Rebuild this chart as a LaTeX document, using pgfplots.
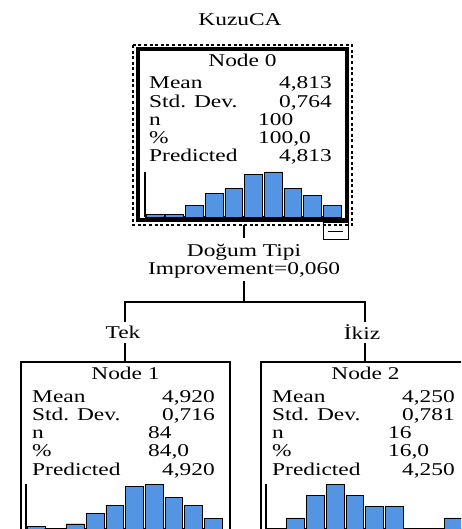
\documentclass[border=0pt]{standalone}
\usepackage{pgfplots}
\pgfplotsset{compat=1.18}
\usepackage{fontspec}
\setmainfont{Liberation Serif}[FakeStretch=1.3]

\definecolor{barblue}{RGB}{83,149,226}
\definecolor{baredge}{RGB}{175,205,242}

\pgfplotsset{histo/.style={
    scale only axis, width=197pt, height=45pt,
    anchor=south west,
    xmin=0.5, xmax=10.5, ymin=0,
    axis x line=bottom, axis y line=left,
    axis line style={-, black, line width=1.3pt},
    xtick=\empty, ytick=\empty,
    ybar, bar width=0.9,
    cycle list={{fill=barblue, draw=baredge, line width=0.7pt}},
}}

% #1 box left, #2 box top (pixels from top), #3 title, #4 mean, #5 sd, #6 n, #7 pct, #8 n column
\newcommand{\nodetext}[8]{%
  \node[anchor=base] at ({#1+104.5},{-(#2+17.5)}) {#3};
  \node[anchor=base west] at ({#1+11},{-(#2+40)}) {Mean};
  \node[anchor=base east] at ({#1+194},{-(#2+40)}) {#4};
  \node[anchor=base west] at ({#1+11},{-(#2+58.3)}) {Std. Dev.};
  \node[anchor=base east] at ({#1+194},{-(#2+58.3)}) {#5};
  \node[anchor=base west] at ({#1+11},{-(#2+76.5)}) {n};
  \node[anchor=base west] at ({#1+#8},{-(#2+76.5)}) {#6};
  \node[anchor=base west] at ({#1+11},{-(#2+94.7)}) {\%};
  \node[anchor=base west] at ({#1+#8},{-(#2+94.7)}) {#7};
  \node[anchor=base west] at ({#1+11},{-(#2+113)}) {Predicted};
  \node[anchor=base east] at ({#1+194},{-(#2+113)}) {#4};
}

\begin{document}
\begin{tikzpicture}[x=1pt, y=1pt,
    every node/.style={inner sep=0pt, font=\fontsize{18}{20}\selectfont, text=black}]
\useasboundingbox (0,0) rectangle (461,-529);
\begin{scope}
\clip (0,0) rectangle (461,-529);

% title
\node at (240,-20) {KuzuCA};

% root node
\draw[black, line width=0.9pt] (323,-222) rectangle (348,-239);
\draw[black, line width=1pt] (328,-231.5) -- (343,-231.5);
\draw[black, line width=3.5pt] (138,-49) rectangle (347,-220);
\draw[black, line width=1.1pt, dash pattern=on 3pt off 2.6pt] (133,-45) rectangle (352,-225);
\nodetext{138}{49}{Node 0}{4,813}{0,764}{100}{100,0}{120}

% connectors
\draw[black, line width=1.5pt] (244,-225) -- (244,-238);
\draw[black, line width=1.5pt] (244,-281) -- (244,-302);
\draw[black, line width=1.5pt] (125,-322) -- (125,-302) -- (365,-302) -- (365,-322);
\draw[black, line width=1.5pt] (125,-343) -- (125,-362);
\draw[black, line width=1.5pt] (365,-343) -- (365,-362);
\node at (244,-252) {Doğum Tipi};
\node at (244,-270) {Improvement=0,060};
\node at (123,-332) {Tek};
\node at (362,-332) {İkiz};

% child nodes
\draw[black, line width=1.5pt] (21,-362) rectangle (230,-533);
\draw[black, line width=1.5pt] (261,-362) rectangle (470,-533);
\nodetext{21}{362}{Node 1}{4,920}{0,716}{84}{84,0}{127}
\nodetext{261}{362}{Node 2}{4,250}{0,781}{16}{16,0}{127}

% histograms
\begin{axis}[histo, at={(145pt,-217pt)}, ymax=19]
\addplot coordinates {(1,1) (2,1) (3,5) (4,10) (5,12) (6,18) (7,19) (8,12) (9,9) (10,5)};
\end{axis}
\begin{axis}[histo, at={(26pt,-529pt)}, ymax=17]
\addplot coordinates {(1,1) (3,2) (4,6) (5,9) (6,16) (7,17) (8,12) (9,9) (10,4)};
\end{axis}
\begin{axis}[histo, at={(266pt,-529pt)}, ymax=4]
\addplot coordinates {(2,1) (3,3) (4,4) (5,3) (6,2) (7,2) (10,1)};
\end{axis}
\end{scope}
\end{tikzpicture}
\end{document}
